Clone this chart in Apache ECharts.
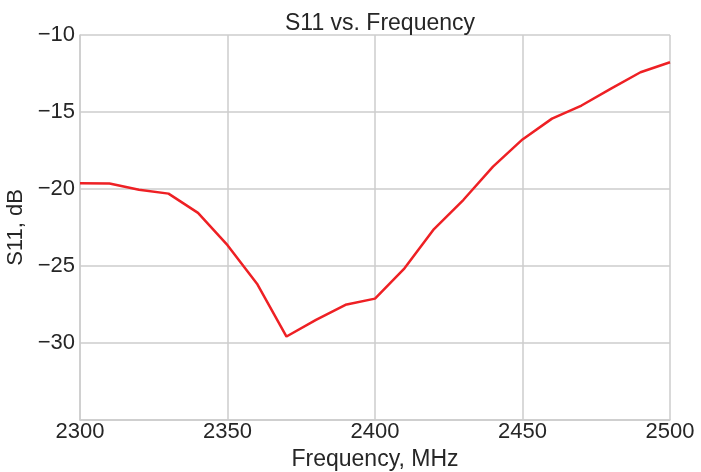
<!DOCTYPE html>
<html>
<head>
<meta charset="utf-8">
<script src="https://cdn.jsdelivr.net/npm/echarts@6/dist/echarts.min.js"></script>
<style>html,body{margin:0;padding:0;background:#fff;}#c{width:701px;height:472px;}</style>
</head>
<body>
<div id="c"></div>
<script>
const frequency = [2300,2310,2320,2330,2340,2350,2360,2370,2380,2390,2400,2410,2420,2430,2440,2450,2460,2470,2480,2490,2500];
const s11 = [-19.62,-19.64,-20.05,-20.3,-21.55,-23.65,-26.15,-29.58,-28.5,-27.52,-27.12,-25.15,-22.6,-20.7,-18.55,-16.78,-15.43,-14.58,-13.48,-12.42,-11.77];
const xTicks = [2300,2350,2400,2450,2500];
const yTicks = [-10,-15,-20,-25,-30];

const chart = echarts.init(document.getElementById('c'));
const font = '"Liberation Sans", Arial, sans-serif';
chart.setOption({
  animation: false,
  backgroundColor: '#ffffff',
  title: {
    text: 'S11 vs. Frequency', left: 375, top: 7, textAlign: 'center',
    textStyle: {fontFamily: font, fontSize: 23, fontWeight: 'normal', color: '#262626'}
  },
  grid: {left: 80, right: 31, top: 35, bottom: 52, containLabel: false, outerBoundsMode: 'none'},
  xAxis: {
    type: 'value', min: 2300, max: 2500, interval: 50,
    name: 'Frequency, MHz', nameLocation: 'middle', nameGap: 22,
    nameTextStyle: {fontFamily: font, fontSize: 23, color: '#262626'},
    axisLine: {show: true, lineStyle: {color: '#cccccc', width: 1.5}},
    axisTick: {show: false},
    splitLine: {show: true, lineStyle: {color: '#cccccc', width: 1.5}},
    axisLabel: {fontFamily: font, fontSize: 22, color: '#262626', margin: 1,
      formatter: v => xTicks.includes(v) ? String(v) : ''}
  },
  yAxis: {
    type: 'value', min: -35, max: -10, interval: 5,
    name: 'S11, dB', nameLocation: 'middle', nameGap: 45,
    nameTextStyle: {fontFamily: font, fontSize: 22, color: '#262626'},
    axisLine: {show: true, lineStyle: {color: '#cccccc', width: 1.5}},
    axisTick: {show: false},
    splitLine: {show: true, lineStyle: {color: '#cccccc', width: 1.5}},
    axisLabel: {fontFamily: font, fontSize: 22, color: '#262626', margin: 5,
      formatter: v => yTicks.includes(v) ? String(v).replace('-', '\u2212') : ''}
  },
  series: [{
    type: 'line', data: frequency.map((f, i) => [f, s11[i]]),
    showSymbol: false, lineStyle: {color: '#ee2024', width: 2.5}, itemStyle: {color: '#ee2024'}
  }]
});
</script>
</body>
</html>
